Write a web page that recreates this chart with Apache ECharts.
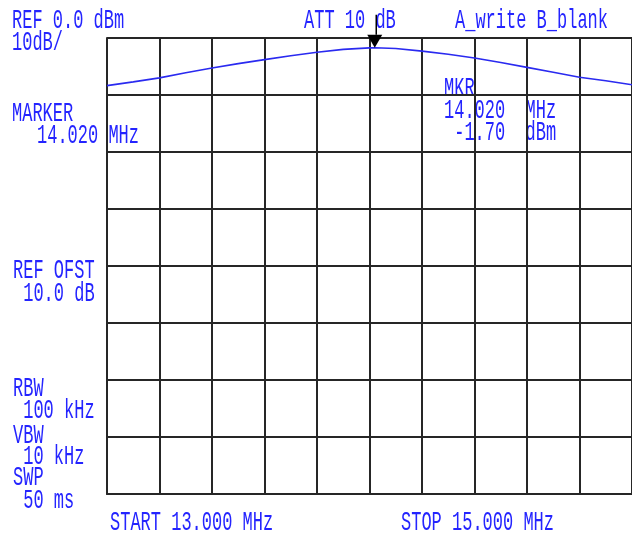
<!DOCTYPE html>
<html>
<head>
<meta charset="utf-8">
<script src="https://cdn.jsdelivr.net/npm/echarts@6/dist/echarts.min.js"></script>
<style>
html,body{margin:0;padding:0;background:#fff;}
#c{width:632px;height:537px;}
</style>
</head>
<body>
<div id="c"></div>
<script>
// Sweep frequencies (MHz) and trace levels (dBm)
const freqMHz = [13.0, 13.1, 13.2, 13.3, 13.4, 13.5, 13.6, 13.7, 13.8, 13.9, 14.0, 14.02, 14.1, 14.2, 14.3, 14.4, 14.5, 14.6, 14.7, 14.8, 14.9, 15.0];
const levelDbm = [-8.35, -7.7, -7.0, -6.1, -5.25, -4.5, -3.8, -3.1, -2.5, -2.0, -1.73, -1.70, -1.85, -2.3, -2.85, -3.5, -4.3, -5.15, -6.0, -6.9, -7.5, -8.2];
const markerFreq = 14.02;
const markerLevel = -1.70;
// Axis scale: 13..15 MHz, 0.2 MHz/div ; 0..-80 dBm, 10 dB/div
const xMin = 13, xMax = 15, xStep = 0.2;
const yMin = -80, yMax = 0, yStep = 10;

// Annotation texts: [text, left, top]
const texts = [
  ['REF 0.0 dBm', 12, 7],
  ['10dB/', 12, 29],
  ['MARKER', 12, 100],
  ['14.020 MHz', 37, 122],
  ['ATT 10 dB', 304, 7],
  ['A_write B_blank', 455, 7],
  ['MKR', 444, 75],
  ['14.020  MHz', 444, 97],
  [' -1.70  dBm', 444, 119],
  ['REF OFST', 13, 257],
  [' 10.0 dB', 13, 280],
  ['RBW', 13, 375],
  [' 100 kHz', 13, 397],
  ['VBW', 13, 422],
  [' 10 kHz', 13, 443],
  ['SWP', 13, 464],
  [' 50 ms', 13, 487],
  ['START 13.000 MHz', 110, 509],
  ['STOP 15.000 MHz', 401, 509]
];

const BLUE = '#2424ff';
const GRID = '#262626';

const chart = echarts.init(document.getElementById('c'), null, {renderer: 'canvas'});
const data = freqMHz.map((f, i) => [f, levelDbm[i]]);

chart.setOption({
  backgroundColor: '#ffffff',
  animation: false,
  grid: {left: 107, top: 38, width: 531, height: 456, containLabel: false},
  xAxis: {
    type: 'value', min: xMin, max: xMax, interval: xStep,
    axisLine: {show: true, onZero: false, lineStyle: {color: GRID, width: 2}},
    axisTick: {show: false}, axisLabel: {show: false},
    splitLine: {show: true, lineStyle: {color: GRID, width: 2}}
  },
  yAxis: {
    type: 'value', min: yMin, max: yMax, interval: yStep,
    axisLine: {show: true, onZero: false, lineStyle: {color: GRID, width: 2}},
    axisTick: {show: false}, axisLabel: {show: false},
    splitLine: {show: true, lineStyle: {color: GRID, width: 2}}
  },
  series: [{
    type: 'line',
    data: data,
    showSymbol: false,
    smooth: false,
    lineStyle: {color: '#2a2af0', width: 1.6},
    markPoint: {
      silent: true,
      data: [
        {coord: [markerFreq, markerLevel], symbol: 'triangle', symbolRotate: 180, symbolSize: [15, 13], symbolOffset: [0, -6.5], itemStyle: {color: '#000'}, label: {show: false}},
        {coord: [markerFreq, markerLevel], symbol: 'rect', symbolSize: [1.5, 20], symbolOffset: [1.5, -23], itemStyle: {color: '#000'}, label: {show: false}}
      ]
    }
  }],
  graphic: texts.map(t => ({
    type: 'text',
    x: t[1], y: t[2],
    scaleY: 1.6,
    silent: true,
    style: {
      text: t[0], x: 0, y: 0,
      fill: BLUE,
      font: '17px "Liberation Mono", "DejaVu Sans Mono", monospace',
      textAlign: 'left', textVerticalAlign: 'top'
    }
  }))
});
</script>
</body>
</html>
